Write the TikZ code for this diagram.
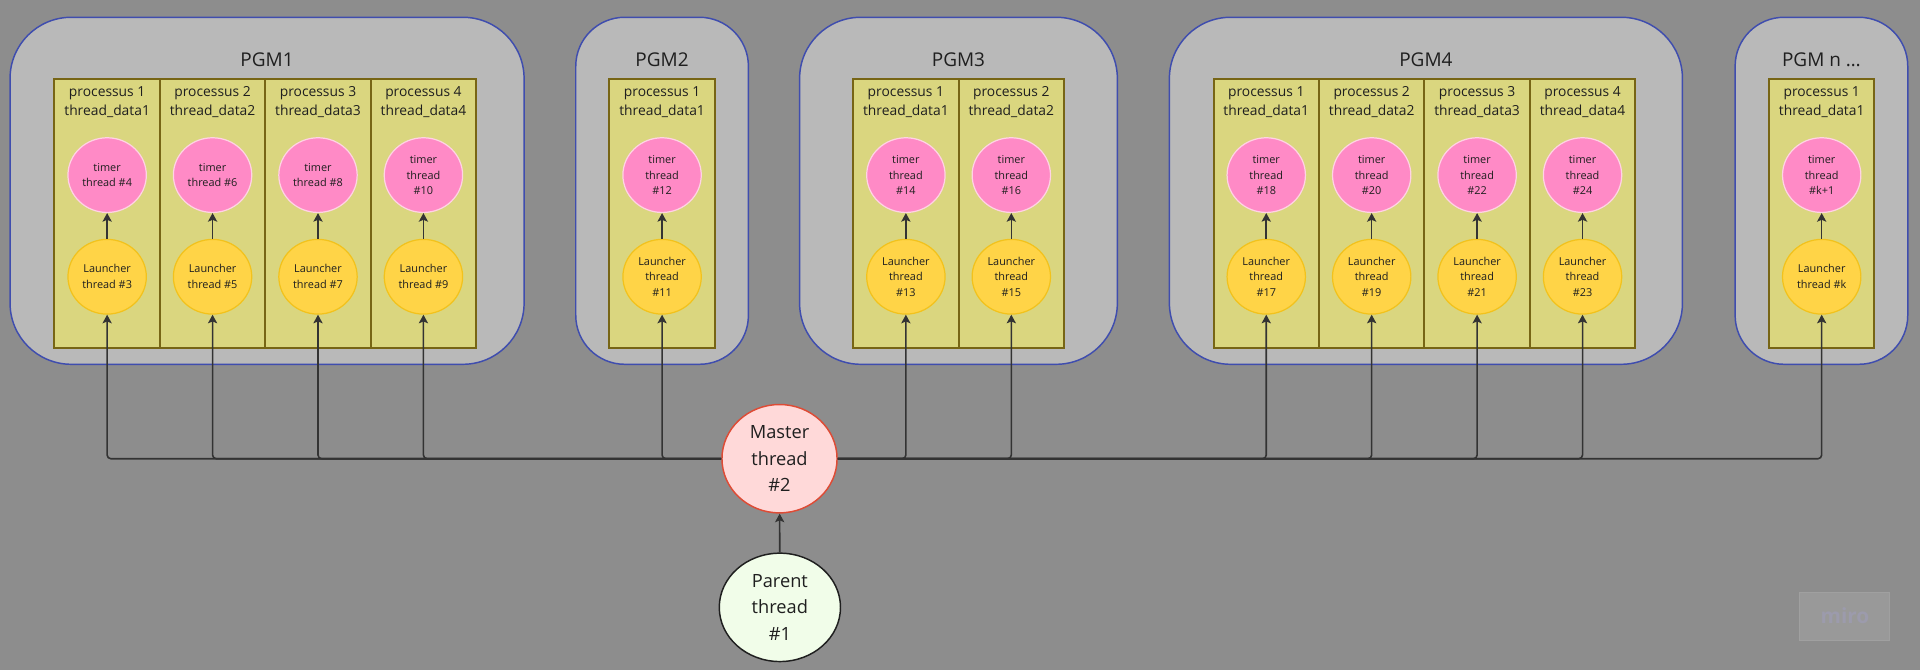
\documentclass[tikz,border=0pt]{standalone}
\usepackage{fontspec}
\setmainfont{Open Sans}
\usetikzlibrary{shapes.geometric,arrows.meta}
\definecolor{backgr}{HTML}{8D8D8D}
\definecolor{pgmfill}{HTML}{B9B9B9}
\definecolor{pgmline}{HTML}{3F4DAE}
\definecolor{procfill}{HTML}{DAD67F}
\definecolor{procline}{HTML}{776515}
\definecolor{timerfill}{HTML}{FF8AC6}
\definecolor{timerline}{HTML}{FFD3E4}
\definecolor{launchfill}{HTML}{FFD447}
\definecolor{launchline}{HTML}{F2C21C}
\definecolor{masterfill}{HTML}{FFD9D9}
\definecolor{masterline}{HTML}{DE4B35}
\definecolor{parentfill}{HTML}{F1FDE9}
\definecolor{ink}{HTML}{1F1F1F}
\definecolor{wire}{HTML}{333333}
\definecolor{wmfill}{HTML}{999999}
\definecolor{wmline}{HTML}{A0A0A0}
\definecolor{wmtext}{HTML}{9C9BAC}
\begin{document}
\begin{tikzpicture}
  [x=1pt,y=-1pt,every node/.style={text=ink,inner sep=0pt,align=center}]
  \tikzstyle{pgm} = [draw=pgmline,fill=pgmfill,line width=1.2pt,minimum height=283.4pt]
  \tikzstyle{title} = [font=\fontsize{15.5}{18}\selectfont]
  \tikzstyle{proc} = [draw=procline,fill=procfill,line width=1.6pt,minimum width=86.1pt,minimum height=219.5pt]
  \tikzstyle{head} = [font=\fontsize{11.3}{15.5}\selectfont]
  \tikzstyle{timer} = [ellipse,draw=timerline,fill=timerfill,line width=1pt,minimum width=64pt,minimum height=61pt,font=\fontsize{8.9}{12.8}\selectfont]
  \tikzstyle{launcher} = [timer,draw=launchline,fill=launchfill]
  \tikzstyle{big} = [ellipse,line width=1.2pt,minimum width=94pt,minimum height=88.5pt,font=\fontsize{14.9}{21.8}\selectfont]
  \tikzstyle{arr} = [draw=wire,line width=1.3pt,-{Stealth[length=7pt,width=7.5pt,inset=1.5pt]}]
  \useasboundingbox (0,0) rectangle (1568,547.2);
  \fill[backgr] (0,0) rectangle (1568,547.2);
  \foreach \n/\x/\w/\rad/\ttl in {1/218.1/419.8/50/PGM1,2/540.7/141/40/PGM2,3/782.75/259.5/50/PGM3,4/1164.5/419/50/PGM4,5/1487.5/141/40/{PGM n \ldots}}
   {\node[pgm,minimum width=\w pt,rounded corners=\rad pt] (p\n) at (\x,155.8) {};
    \node[title] (g\n) at (\x,48.5) {\ttl};}
  \foreach \n/\x/\k in {1/87.5/1,2/173.6/2,3/259.7/3,4/345.8/4,5/540.7/1,6/739.8/1,7/825.9/2,8/1034.1/1,9/1120.2/2,10/1206.3/3,11/1292.4/4,12/1487.7/1}
   {\node[proc] (c\n) at (\x,174.25) {};
    \node[head] (h\n) at (\x,83.5) {processus \k\\thread\_data\k};}
  \foreach \lid/\tid/\x/\lt/\tt in {3/4/87.5/{Launcher\\thread \#3}/{timer\\thread \#4},
    5/6/173.6/{Launcher\\thread \#5}/{timer\\thread \#6},
    7/8/259.7/{Launcher\\thread \#7}/{timer\\thread \#8},
    9/10/345.8/{Launcher\\thread \#9}/{timer\\thread\\\#10},
    11/12/540.7/{Launcher\\thread\\\#11}/{timer\\thread\\\#12},
    13/14/739.8/{Launcher\\thread\\\#13}/{timer\\thread\\\#14},
    15/16/825.9/{Launcher\\thread\\\#15}/{timer\\thread\\\#16},
    17/18/1034.1/{Launcher\\thread\\\#17}/{timer\\thread\\\#18},
    19/20/1120.2/{Launcher\\thread\\\#19}/{timer\\thread\\\#20},
    21/22/1206.3/{Launcher\\thread\\\#21}/{timer\\thread\\\#22},
    23/24/1292.4/{Launcher\\thread\\\#23}/{timer\\thread\\\#24},
    k/k1/1487.7/{Launcher\\thread \#k}/{timer\\thread\\\#k+1}}
   {\node[launcher] (l\lid) at (\x,226) {\lt};
    \node[timer] (t\tid) at (\x,143) {\tt};
    \draw[arr] (l\lid) -- (t\tid);}
  \node[big,draw=masterline,fill=masterfill] (master) at (636.6,374.6) {Master\\thread\\\#2};
  \node[big,draw=ink,fill=parentfill,minimum width=99pt] (parent) at (636.9,496) {Parent\\thread\\\#1};
  \node[draw=wmline,fill=wmfill,line width=0.8pt,minimum width=73.5pt,minimum height=39pt,text=wmtext,font=\bfseries\fontsize{17}{17}\selectfont] (wm) at (1506.7,503.2) {miro};
  \draw[arr] (parent) -- (master);
  \foreach \lid in {3,5,7,9,11}
   \draw[arr,rounded corners=3pt] (master.west) -| (l\lid);
  \foreach \lid in {13,15,17,19,21,23,k}
   \draw[arr,rounded corners=3pt] (master.east) -| (l\lid);
\end{tikzpicture}
\end{document}
